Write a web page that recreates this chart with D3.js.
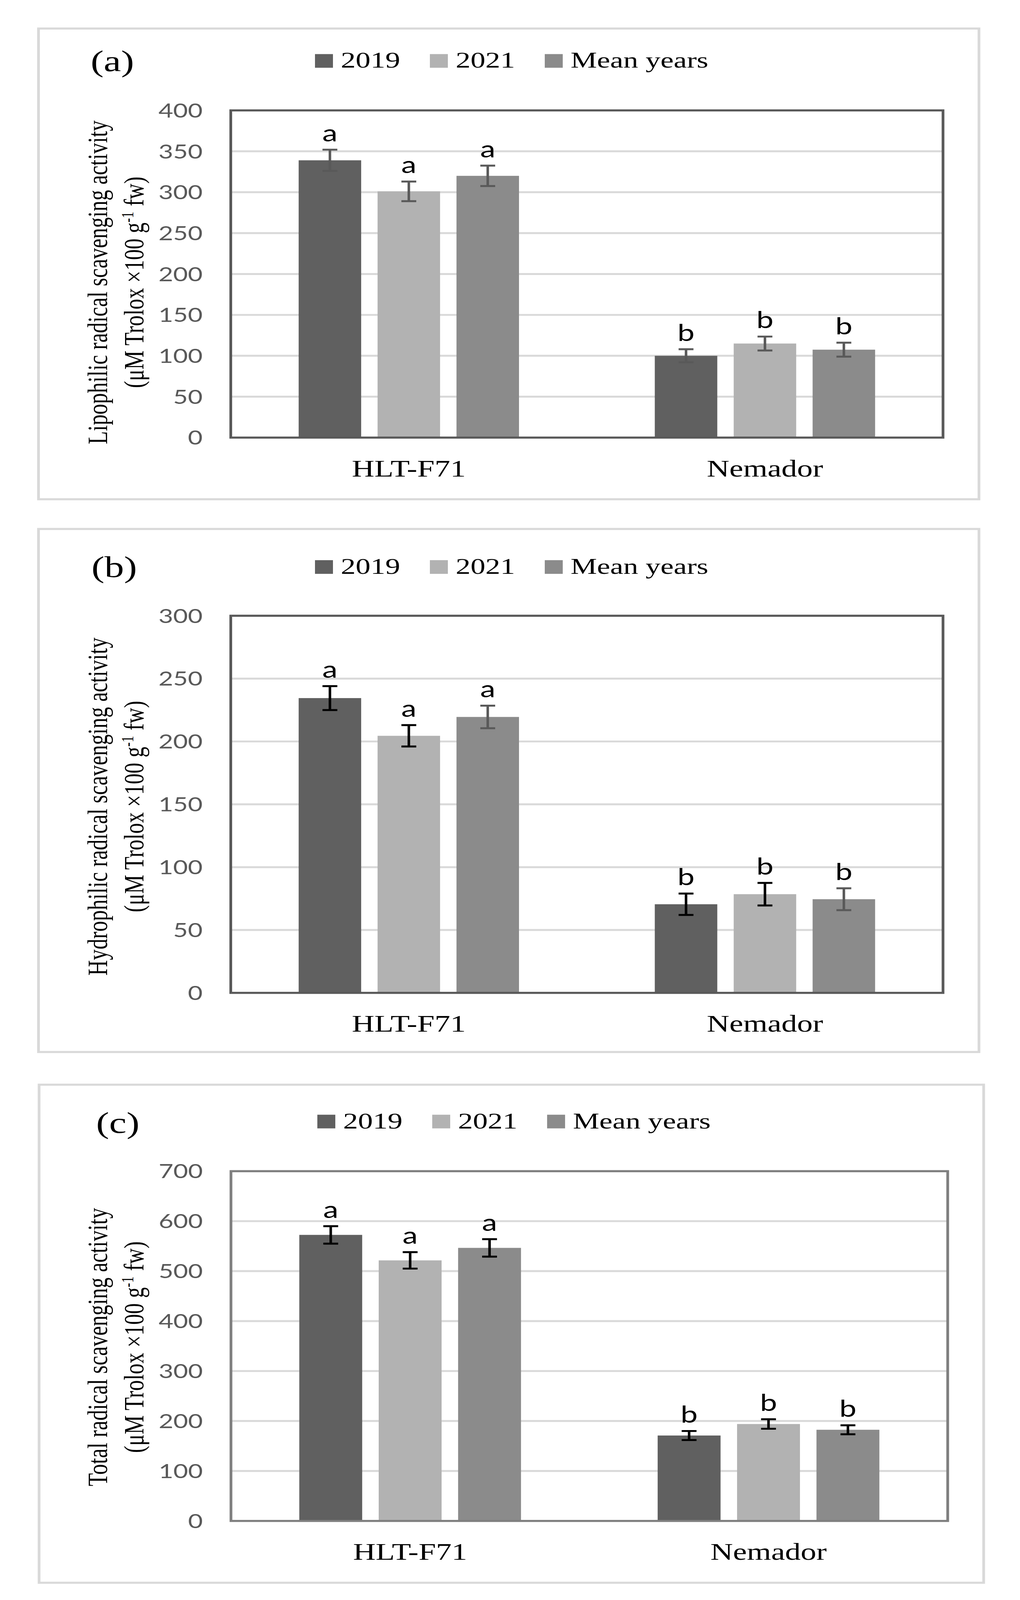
<!DOCTYPE html>
<html>
<head>
<meta charset="utf-8">
<script src="https://cdn.jsdelivr.net/npm/d3@7"></script>
<style>
  html, body { margin: 0; padding: 0; background: #ffffff; overflow: hidden; }
  svg { display: block; }
</style>
</head>
<body>
<script>
// ---------------- DATA ----------------
const categories = ["HLT-F71", "Nemador"];
const seriesNames = ["2019", "2021", "Mean years"];

// values per category: [2019, 2021, Mean years]
const lipoValues  = [[339, 301, 320], [100, 115, 107.5]];
const lipoErrors  = [[13, 12, 12.5], [8, 8.5, 8.5]];
const lipoLetters = [["a", "a", "a"], ["b", "b", "b"]];
const lipoTicks   = [0, 50, 100, 150, 200, 250, 300, 350, 400];

const hydroValues  = [[234.5, 204.5, 219.5], [70.5, 78.5, 74.5]];
const hydroErrors  = [[9.5, 8.5, 9], [8.5, 9, 8.7]];
const hydroLetters = [["a", "a", "a"], ["b", "b", "b"]];
const hydroTicks   = [0, 50, 100, 150, 200, 250, 300];

const totalValues  = [[572.5, 521.5, 546.5], [171, 194, 182.5]];
const totalErrors  = [[17.5, 16.5, 17.5], [9, 9.5, 9]];
const totalLetters = [["a", "a", "a"], ["b", "b", "b"]];
const totalTicks   = [0, 100, 200, 300, 400, 500, 600, 700];

const panelLabels = ["(a)", "(b)", "(c)"];
const yTitles = [
  "Lipophilic radical scavenging activity",
  "Hydrophilic radical scavenging activity",
  "Total radical scavenging activity"
];
const unitLine = ["(μM Trolox ×100 g", "-1", " fw)"];

// ---------------- STYLE / LAYOUT ----------------
const seriesColors = ["#606060", "#b2b2b2", "#8b8b8b"];
const SERIF = "'Liberation Serif', 'Times New Roman', serif";
const SANS = "Lato, 'Open Sans', sans-serif";

const panels = [
  { label: panelLabels[0], title: yTitles[0], values: lipoValues, errors: lipoErrors, letters: lipoLetters, ticks: lipoTicks,
    border: [98.5, 96, 2505, 1680], frame: [590.5, 371.5, 2413, 1472.5], frameColor: "#595959",
    errColors: ["#595959", "#595959", "#595959"], legend: [806, 228], labelPos: [232, 239], titleCy: 950, catY: 1603 },
  { label: panelLabels[1], title: yTitles[1], values: hydroValues, errors: hydroErrors, letters: hydroLetters, ticks: hydroTicks,
    border: [98.5, 1780, 2505, 3540], frame: [590.5, 2072, 2413, 3341], frameColor: "#595959",
    errColors: ["#000000", "#000000", "#595959"], legend: [806, 1931], labelPos: [234, 1942], titleCy: 2714, catY: 3472 },
  { label: panelLabels[2], title: yTitles[2], values: totalValues, errors: totalErrors, letters: totalLetters, ticks: totalTicks,
    border: [100, 3650, 2517, 5326], frame: [591, 3941, 2425, 5118], frameColor: "#7f7f7f",
    errColors: ["#000000", "#000000", "#000000"], legend: [812, 3797], labelPos: [246, 3812], titleCy: 4533, catY: 5249 }
];

// The drawing is laid out on a 2610×5384 canvas and fitted to the visible window.
const W = 2610, H = 5384;
const vw = window.innerWidth || W;
const vh = window.innerHeight || H;
const svg = d3.select("body").append("svg")
  .attr("width", vw).attr("height", vh)
  .attr("viewBox", `0 0 ${W} ${H}`)
  .attr("preserveAspectRatio", "none");
svg.append("rect").attr("width", W).attr("height", H).attr("fill", "#ffffff");

panels.forEach(p => {
  const g = svg.append("g");
  const [bx0, by0, bx1, by1] = p.border;
  const [fx0, fy0, fx1, fy1] = p.frame;

  // outer panel border
  g.append("rect")
    .attr("x", bx0).attr("y", by0).attr("width", bx1 - bx0).attr("height", by1 - by0)
    .attr("fill", "none").attr("stroke", "#d9d9d9").attr("stroke-width", 7);

  const yMax = d3.max(p.ticks);
  const y = d3.scaleLinear().domain([0, yMax]).range([fy1, fy0]);
  const x0 = d3.scaleBand().domain(categories).range([fx0, fx1]).padding(0);
  const bw = x0.bandwidth();
  const groupFrac = 0.6187;
  const x1 = d3.scaleBand().domain(seriesNames)
    .range([bw * (1 - groupFrac) / 2, bw * (1 + groupFrac) / 2])
    .paddingInner(0.208).paddingOuter(0);

  // gridlines
  g.append("g").selectAll("line")
    .data(p.ticks.filter(t => t > 0))
    .join("line")
    .attr("x1", fx0).attr("x2", fx1)
    .attr("y1", d => y(d)).attr("y2", d => y(d))
    .attr("stroke", "#d9d9d9").attr("stroke-width", 6.5);

  // y axis labels via d3 axis
  const yAxis = d3.axisLeft(y).tickValues(p.ticks).tickSize(0).tickPadding(0).tickFormat(d3.format("d"));
  const ag = g.append("g").attr("transform", `translate(${fx0 - 72},0)`).call(yAxis);
  ag.select(".domain").remove();
  ag.selectAll("text")
    .attr("font-family", SANS).attr("font-size", 65).attr("fill", "#595959")
    .attr("dy", "0.36em").attr("x", 0);

  // bars
  const flat = [];
  categories.forEach((c, ci) => {
    seriesNames.forEach((s, si) => {
      flat.push({ cat: c, ser: s, si, v: p.values[ci][si], e: p.errors[ci][si], letter: p.letters[ci][si] });
    });
  });

  g.append("g").selectAll("rect")
    .data(flat).join("rect")
    .attr("x", d => x0(d.cat) + x1(d.ser))
    .attr("width", x1.bandwidth())
    .attr("y", d => y(d.v))
    .attr("height", d => y(0) - y(d.v))
    .attr("fill", d => seriesColors[d.si]);

  // plot frame
  g.append("rect")
    .attr("x", fx0).attr("y", fy0).attr("width", fx1 - fx0).attr("height", fy1 - fy0)
    .attr("fill", "none").attr("stroke", p.frameColor).attr("stroke-width", 7);

  // error bars + significance letters
  const eg = g.append("g");
  const capHalf = 19;
  flat.forEach(d => {
    const cx = x0(d.cat) + x1(d.ser) + x1.bandwidth() / 2;
    const col = p.errColors[d.si];
    eg.append("line").attr("x1", cx).attr("x2", cx)
      .attr("y1", y(d.v + d.e)).attr("y2", y(d.v - d.e))
      .attr("stroke", col).attr("stroke-width", 6.5);
    [d.v + d.e, d.v - d.e].forEach(val => {
      eg.append("line").attr("x1", cx - capHalf).attr("x2", cx + capHalf)
        .attr("y1", y(val)).attr("y2", y(val))
        .attr("stroke", col).attr("stroke-width", 6.5);
    });
    eg.append("text")
      .attr("x", cx).attr("y", y(d.v + d.e) - 28)
      .attr("text-anchor", "middle")
      .attr("font-family", SANS).attr("font-size", 78).attr("fill", "#000")
      .text(d.letter);
  });

  // category labels
  g.append("g").selectAll("text")
    .data(categories).join("text")
    .attr("x", d => x0(d) + bw / 2).attr("y", p.catY)
    .attr("text-anchor", "middle")
    .attr("font-family", SERIF).attr("font-size", 80).attr("fill", "#000")
    .text(d => d);

  // panel label
  g.append("text")
    .attr("x", p.labelPos[0]).attr("y", p.labelPos[1])
    .attr("font-family", SERIF).attr("font-size", 100).attr("fill", "#000")
    .text(p.label);

  // legend
  let lx = p.legend[0];
  const ly = p.legend[1];
  const lg = g.append("g");
  seriesNames.forEach((s, si) => {
    lg.append("rect").attr("x", lx).attr("y", ly - 46).attr("width", 46).attr("height", 46)
      .attr("fill", seriesColors[si]);
    const t = lg.append("text").attr("x", lx + 66).attr("y", ly)
      .attr("font-family", SERIF).attr("font-size", 76).attr("fill", "#000")
      .text(s);
    lx = lx + 66 + t.node().getComputedTextLength() + 76;
  });

  // y title (two lines, rotated)
  g.append("text")
    .attr("transform", `translate(274,${p.titleCy}) rotate(-90)`)
    .attr("text-anchor", "middle")
    .attr("font-family", SERIF).attr("font-size", 72).attr("fill", "#000")
    .text(p.title);
  const t2 = g.append("text")
    .attr("transform", `translate(367,${p.titleCy}) rotate(-90)`)
    .attr("text-anchor", "middle")
    .attr("font-family", SERIF).attr("font-size", 72).attr("fill", "#000");
  t2.append("tspan").text(unitLine[0]);
  t2.append("tspan").attr("font-size", 44).attr("dy", -26).text(unitLine[1]);
  t2.append("tspan").attr("dy", 26).text(unitLine[2]);
});
</script>
</body>
</html>
